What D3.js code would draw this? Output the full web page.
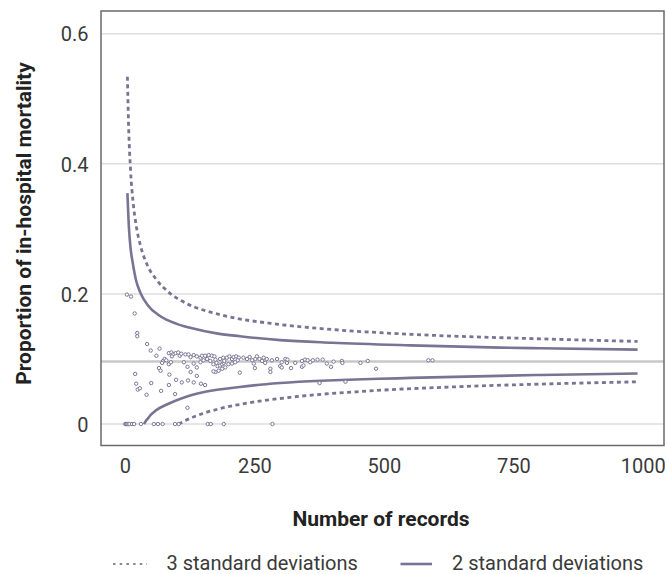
<!DOCTYPE html>
<html>
<head>
<meta charset="utf-8">
<script src="https://cdn.jsdelivr.net/npm/d3@7"></script>
<style>
body { margin: 0; background: #fff; }
text { font-family: Roboto, "DejaVu Sans", sans-serif; }
</style>
</head>
<body>
<div id="chart"></div>
<script>
var yTicks = [0, 0.2, 0.4, 0.6];
var xTicks = [0, 250, 500, 750, 1000];
var meanRate = 0.096;

// control limits
var upper3N = [5, 7, 11, 16, 22, 30, 43, 60, 84, 120, 180, 300, 390, 551, 802, 990];
var upper3V = [0.534, 0.466, 0.391, 0.341, 0.305, 0.275, 0.245, 0.223, 0.203, 0.185, 0.169, 0.153, 0.146, 0.138, 0.131, 0.127];
var upper2N = [5, 8, 11, 15, 22, 30, 45, 68, 100, 126, 180, 222, 300, 400, 551, 725, 802, 990];
var upper2V = [0.355, 0.301, 0.271, 0.249, 0.220, 0.202, 0.182, 0.166, 0.154, 0.148, 0.139, 0.135, 0.129, 0.125, 0.121, 0.1175, 0.1165, 0.1144];
var lower2N = [37, 40, 45, 50, 60, 81, 126, 222, 300, 551, 802, 990];
var lower2V = [0, 0.004, 0.009, 0.014, 0.021, 0.030, 0.044, 0.057, 0.063, 0.071, 0.0755, 0.0776];
var lower3N = [104, 115, 130, 150, 184, 222, 319, 454, 647, 802, 990];
var lower3V = [0, 0.0046, 0.010, 0.016, 0.0238, 0.0302, 0.0411, 0.050, 0.0575, 0.0614, 0.0649];

// hospitals: number of records and proportion of deaths
var recordsN = [
  1, 2, 3, 5, 7, 9, 14, 18, 31, 56, 64, 73, 97, 104, 160, 166, 191, 285,
  4, 12, 19, 24, 24, 43, 50, 61, 67, 20, 22, 25, 29, 51, 42, 70, 85, 86, 99, 97,
  110, 122, 133, 139, 147, 155, 121, 66, 69, 74, 72, 77, 80, 85, 89,
  85, 90, 93, 91, 98, 103, 106, 109,
  117, 123, 127, 133, 139, 146, 114, 121, 127, 133, 139, 146,
  149, 155, 162, 168, 173, 159, 152, 165, 175, 177, 171, 179, 184, 188, 191, 192,
  184, 190, 197, 202, 207, 210, 215, 220, 218, 213, 207, 200, 194, 188, 181, 175,
  171, 222, 229, 236, 241, 246, 249, 252, 255, 260, 265, 268, 271, 274, 281, 281,
  284, 294, 300, 251,
  303, 310, 314, 313, 303, 321, 329, 342, 342, 345, 348, 353, 358, 363, 372, 382,
  390, 398, 403, 419, 420, 455, 469, 485, 586, 594, 376, 426
];
var mortalityV = [
  0, 0, 0, 0, 0, 0, 0, 0, 0, 0, 0, 0, 0, 0, 0, 0, 0, 0,
  0.199, 0.196, 0.170, 0.140, 0.135, 0.123, 0.113, 0.105, 0.116, 0.077, 0.062, 0.053, 0.055, 0.063, 0.045, 0.051, 0.060, 0.076, 0.068, 0.046,
  0.064, 0.067, 0.064, 0.074, 0.062, 0.060, 0.025, 0.086, 0.082, 0.097, 0.094, 0.100, 0.098, 0.092, 0.095,
  0.109, 0.110, 0.107, 0.104, 0.109, 0.110, 0.105, 0.108,
  0.107, 0.107, 0.103, 0.106, 0.104, 0.102, 0.095, 0.088, 0.080, 0.093, 0.087, 0.095,
  0.105, 0.105, 0.106, 0.105, 0.104, 0.100, 0.098, 0.097, 0.099, 0.094, 0.092, 0.089, 0.090, 0.092, 0.094, 0.097,
  0.100, 0.102, 0.102, 0.104, 0.100, 0.103, 0.104, 0.102, 0.098, 0.095, 0.093, 0.092, 0.087, 0.085, 0.082, 0.080,
  0.081, 0.079, 0.102, 0.100, 0.103, 0.098, 0.093, 0.100, 0.104, 0.100, 0.097, 0.102, 0.094, 0.100, 0.085, 0.080,
  0.098, 0.100, 0.089, 0.086,
  0.095, 0.100, 0.099, 0.094, 0.087, 0.086, 0.094, 0.097, 0.088, 0.090, 0.099, 0.098, 0.095, 0.098, 0.099, 0.099,
  0.093, 0.088, 0.096, 0.097, 0.094, 0.094, 0.097, 0.085, 0.098, 0.098, 0.063, 0.065
];

var legendLabels = ["3 standard deviations", "2 standard deviations"];

var lineColor = "#7a7393";
var textColor = "#3a3a3a";

var margin = {top: 11, left: 101};
var width = 563, height = 434.5;

var svg = d3.select("#chart").append("svg")
  .attr("width", 667)
  .attr("height", 574);

var g = svg.append("g")
  .attr("transform", "translate(" + margin.left + "," + margin.top + ")");

var x = d3.scaleLinear().domain([-46, 1041]).range([0, width]);
var y = d3.scaleLinear().domain([-0.033, 0.635]).range([height, 0]);

// gridlines
g.selectAll(".grid")
  .data(yTicks)
  .enter().append("line")
  .attr("x1", 0).attr("x2", width)
  .attr("y1", d => y(d)).attr("y2", d => y(d))
  .attr("stroke", "#dedede")
  .attr("stroke-width", 1.5);

// overall rate
g.append("line")
  .attr("x1", 0).attr("x2", width)
  .attr("y1", y(meanRate)).attr("y2", y(meanRate))
  .attr("stroke", "#c8c8c8")
  .attr("stroke-width", 2.5);

var line = d3.line()
  .x(d => x(d[0]))
  .y(d => y(d[1]))
  .curve(d3.curveMonotoneX);

function drawLimit(ns, vs, dashed) {
  g.append("path")
    .datum(ns.map((n, i) => [n, vs[i]]))
    .attr("d", line)
    .attr("fill", "none")
    .attr("stroke", lineColor)
    .attr("stroke-width", dashed ? 2.8 : 2.6)
    .attr("stroke-dasharray", dashed ? "4,3.5" : null);
}
drawLimit(upper3N, upper3V, true);
drawLimit(lower3N, lower3V, true);
drawLimit(upper2N, upper2V, false);
drawLimit(lower2N, lower2V, false);

// points
g.selectAll(".dot")
  .data(recordsN)
  .enter().append("circle")
  .attr("cx", d => x(d))
  .attr("cy", (d, i) => y(mortalityV[i]))
  .attr("r", 1.7)
  .attr("fill", "#fff")
  .attr("stroke", "#7d7796")
  .attr("stroke-width", 1);

// frame
g.append("rect")
  .attr("width", width)
  .attr("height", height)
  .attr("fill", "none")
  .attr("stroke", "#6a6a6a")
  .attr("stroke-width", 1.5);

// axes
var yAxis = g.append("g")
  .call(d3.axisLeft(y).tickValues(yTicks).tickSize(0).tickPadding(12.5)
    .tickFormat(d => d === 0 ? "0" : d3.format(".1f")(d)));
var xAxis = g.append("g")
  .attr("transform", "translate(0," + height + ")")
  .call(d3.axisBottom(x).tickValues(xTicks).tickSize(0).tickPadding(13.5)
    .tickFormat(d3.format("d")));

[yAxis, xAxis].forEach(function(a) {
  a.select(".domain").remove();
  a.attr("font-family", null).attr("font-size", 20);
  a.selectAll("text").attr("fill", textColor);
});
yAxis.selectAll("text").attr("dy", "0.36em");

// axis titles
svg.append("text")
  .attr("x", 381)
  .attr("y", 526)
  .attr("text-anchor", "middle")
  .attr("font-size", 21)
  .attr("font-weight", "bold")
  .attr("fill", "#222")
  .text("Number of records");

svg.append("text")
  .attr("transform", "translate(30.5,223.5) rotate(-90)")
  .attr("text-anchor", "middle")
  .attr("font-size", 21)
  .attr("font-weight", "bold")
  .attr("fill", "#222")
  .text("Proportion of in-hospital mortality");

// legend
var legend = svg.append("g");
legend.append("line")
  .attr("x1", 113).attr("x2", 147)
  .attr("y1", 564).attr("y2", 564)
  .attr("stroke", "#8a84a0")
  .attr("stroke-width", 2)
  .attr("stroke-dasharray", "2.5,4.2");
legend.append("text")
  .attr("x", 166.5).attr("y", 570)
  .attr("font-size", 20)
  .attr("fill", textColor)
  .text(legendLabels[0]);
legend.append("line")
  .attr("x1", 400.5).attr("x2", 432)
  .attr("y1", 564).attr("y2", 564)
  .attr("stroke", lineColor)
  .attr("stroke-width", 2.6);
legend.append("text")
  .attr("x", 452).attr("y", 570)
  .attr("font-size", 20)
  .attr("fill", textColor)
  .text(legendLabels[1]);
</script>
</body>
</html>
